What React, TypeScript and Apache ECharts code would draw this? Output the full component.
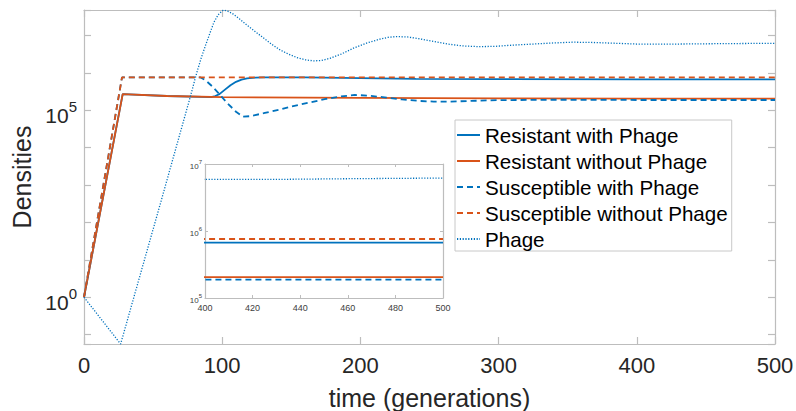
import React, { useEffect, useRef } from "react";
import * as echarts from "echarts";

const seriesNames = [
  "Resistant with Phage",
  "Resistant without Phage",
  "Susceptible with Phage",
  "Susceptible without Phage",
  "Phage",
];

const resistantWithPhage: [number, number][] = [
  [0, 1], [28, 2.69e5], [60, 2.4e5], [92, 2.24e5], [95, 2.4e5], [98, 2.69e5],
  [102, 3.55e5], [106, 4.68e5], [110, 5.75e5], [114, 6.61e5], [118, 7.08e5],
  [124, 7.41e5], [130, 7.59e5], [160, 7.59e5], [200, 7.24e5], [240, 6.92e5],
  [300, 6.76e5], [400, 6.7e5], [500, 6.7e5],
];

const resistantWithoutPhage: [number, number][] = [
  [0, 1], [28, 2.69e5], [60, 2.4e5], [100, 2.24e5], [200, 2.14e5],
  [300, 2.07e5], [400, 2.05e5], [500, 2.05e5],
];

const susceptibleWithPhage: [number, number][] = [
  [0, 1], [27.5, 7.59e5], [84, 7.59e5], [88, 6.31e5], [93, 4.27e5], [98, 2.69e5],
  [104, 1.51e5], [110, 9.12e4], [115, 6.76e4], [120, 6.92e4], [130, 8.32e4],
  [142, 1.05e5], [150, 1.26e5], [161, 1.55e5], [175, 2.0e5], [186, 2.34e5],
  [196, 2.57e5], [206, 2.45e5], [216, 2.24e5], [230, 1.95e5], [242, 1.78e5],
  [253, 1.7e5], [265, 1.7e5], [280, 1.78e5], [300, 1.86e5], [340, 1.91e5],
  [400, 1.88e5], [500, 1.88e5],
];

const susceptibleWithoutPhage: [number, number][] = [
  [0, 1], [27.5, 7.59e5], [500, 7.59e5],
];

const phage: [number, number][] = [
  [0, 1], [26.5, 0.0562], [56, 398], [76.7, 2.14e5], [81.5, 9.8e5], [85, 2.63e6],
  [88, 5.5e6], [91, 1.12e7], [94, 2.24e7], [97, 3.55e7], [100, 4.57e7],
  [101, 4.79e7], [104, 4.47e7], [108, 3.72e7], [112, 2.88e7], [117.7, 1.91e7],
  [124, 1.26e7], [130, 8.5e6], [136, 5.75e6], [142, 4.07e6], [148, 3.16e6],
  [154, 2.57e6], [160, 2.24e6], [166, 2.09e6], [172, 2.14e6], [178, 2.45e6],
  [186, 3.16e6], [195, 4.57e6], [204, 6.17e6], [214, 7.94e6], [220, 8.91e6],
  [226, 9.33e6], [234, 9.12e6], [243, 8.13e6], [253, 6.92e6], [263, 5.89e6],
  [274, 5.25e6], [286, 5.01e6], [298, 5.13e6], [310, 5.5e6], [325, 5.89e6],
  [340, 6.31e6], [354, 6.61e6], [370, 6.46e6], [385, 6.17e6], [400, 5.89e6],
  [430, 5.89e6], [460, 6.03e6], [500, 6.17e6],
];

const mainYLabelExponents = [0, 5];
const insetYLabelExponents = [5, 6, 7];

const BLUE = "#0072BD";
const ORANGE = "#D95319";
const FONT = '"Liberation Sans", Arial, Helvetica, sans-serif';
const AX = "#bdbdbd";
const TXT = "#262626";

function powLabel(v: number, shown: number[]) {
  const e = Math.log10(v);
  const r = Math.round(e);
  if (Math.abs(e - r) > 1e-6 || !shown.includes(r)) return "";
  return `{b|10}{s|${r}}`;
}

export default function App() {
  const ref = useRef<HTMLDivElement>(null);
  useEffect(() => {
    document.body.style.margin = "0";
    const chart = echarts.init(ref.current!, undefined, { renderer: "svg" });

    const styles = [
      { color: BLUE, type: "solid", width: 1.8 },
      { color: ORANGE, type: "solid", width: 1.8 },
      { color: BLUE, type: [6, 4], width: 1.8 },
      { color: ORANGE, type: [6, 4], width: 1.8 },
      { color: BLUE, type: [1.2, 1.6], width: 1.3 },
    ];
    const datas = [
      resistantWithPhage,
      resistantWithoutPhage,
      susceptibleWithPhage,
      susceptibleWithoutPhage,
      phage,
    ];

    const series: any[] = [];
    [0, 1].forEach((g) => {
      seriesNames.forEach((name, i) => {
        series.push({
          type: "line",
          name,
          data: datas[i],
          xAxisIndex: g * 2,
          yAxisIndex: g * 2,
          symbol: "none",
          clip: true,
          silent: true,
          z: g ? 8 : 2,
          itemStyle: { color: styles[i].color },
          lineStyle: { ...styles[i] },
        });
      });
    });

    const axLine = { show: true, onZero: false, lineStyle: { color: AX, width: 1.2 } };
    const mainTick = { show: true, inside: true, length: 7, lineStyle: { color: AX, width: 1.2 } };
    const insetTick = { show: true, inside: true, length: 3, lineStyle: { color: AX, width: 1 } };

    const option: any = {
      animation: false,
      backgroundColor: "#fff",
      textStyle: { fontFamily: FONT },
      grid: [
        { left: 84, top: 10, width: 691, height: 334, containLabel: false, outerBoundsMode: "none" },
        {
          left: 205, top: 164, width: 238, height: 134, containLabel: false, outerBoundsMode: "none",
          show: true, backgroundColor: "#fff", borderWidth: 0, z: 6,
        },
      ],
      legend: {
        orient: "vertical",
        left: 455,
        top: 120,
        itemWidth: 23,
        itemHeight: 2,
        itemGap: 4,
        padding: [4, 4, 1, 1],
        borderColor: "#c8c8c8",
        borderWidth: 1,
        backgroundColor: "#fff",
        itemStyle: { opacity: 0, borderWidth: 0 },
        textStyle: { fontSize: 20.6, color: "#000", lineHeight: 22, fontFamily: FONT },
        data: seriesNames,
        selectedMode: false,
        z: 10,
      },
      xAxis: [
        {
          type: "value", gridIndex: 0, min: 0, max: 500, interval: 100, position: "bottom",
          axisLine: axLine, axisTick: mainTick, splitLine: { show: false },
          axisLabel: { color: TXT, fontSize: 22, margin: 10, fontFamily: FONT },
          name: "time (generations)", nameLocation: "middle", nameGap: 41,
          nameTextStyle: { fontSize: 25, color: TXT, fontFamily: FONT },
        },
        {
          type: "value", gridIndex: 0, min: 0, max: 500, interval: 100, position: "top",
          axisLine: axLine, axisTick: mainTick, splitLine: { show: false },
          axisLabel: { show: false },
        },
        {
          type: "value", gridIndex: 1, min: 400, max: 500, interval: 20, position: "bottom", z: 8,
          axisLine: axLine, axisTick: insetTick, splitLine: { show: false },
          axisLabel: { color: "#404040", fontSize: 9, margin: 5, fontFamily: FONT },
        },
        {
          type: "value", gridIndex: 1, min: 400, max: 500, interval: 20, position: "top", z: 8,
          axisLine: axLine, axisTick: insetTick, splitLine: { show: false },
          axisLabel: { show: false },
        },
      ],
      yAxis: [
        {
          type: "log", logBase: 10, gridIndex: 0, min: 0.0562, max: 4.79e7, splitNumber: 9,
          position: "left",
          axisLine: axLine, axisTick: mainTick, splitLine: { show: false },
          axisLabel: {
            margin: 7,
            formatter: (v: number) => powLabel(v, mainYLabelExponents),
            rich: {
              b: { fontSize: 21, color: TXT, fontFamily: FONT, padding: [10, 0, 0, 0] },
              s: { fontSize: 15, color: TXT, fontFamily: FONT, padding: [0, 0, 8, 0] },
            },
          },
          name: "Densities", nameLocation: "middle", nameGap: 48, nameRotate: 90,
          nameTextStyle: { fontSize: 25, color: TXT, fontFamily: FONT },
        },
        {
          type: "log", logBase: 10, gridIndex: 0, min: 0.0562, max: 4.79e7, splitNumber: 9,
          position: "right",
          axisLine: axLine, axisTick: mainTick, splitLine: { show: false },
          axisLabel: { show: false },
        },
        {
          type: "log", logBase: 10, gridIndex: 1, min: 1e5, max: 1e7, position: "left", z: 8,
          axisLine: axLine, axisTick: insetTick, splitLine: { show: false },
          axisLabel: {
            margin: 3,
            formatter: (v: number) => powLabel(v, insetYLabelExponents),
            rich: {
              b: { fontSize: 8, color: "#404040", fontFamily: FONT, padding: [4, 0, 0, 0] },
              s: { fontSize: 6, color: "#404040", fontFamily: FONT, padding: [0, 0, 4, 0] },
            },
          },
        },
        {
          type: "log", logBase: 10, gridIndex: 1, min: 1e5, max: 1e7, position: "right", z: 8,
          axisLine: axLine, axisTick: insetTick, splitLine: { show: false },
          axisLabel: { show: false },
        },
      ],
      series,
    };
    chart.setOption(option);
    return () => chart.dispose();
  }, []);

  return (
    <div
      ref={ref}
      style={{ position: "fixed", left: 0, top: 0, width: 796, height: 411, background: "#fff" }}
    />
  );
}
